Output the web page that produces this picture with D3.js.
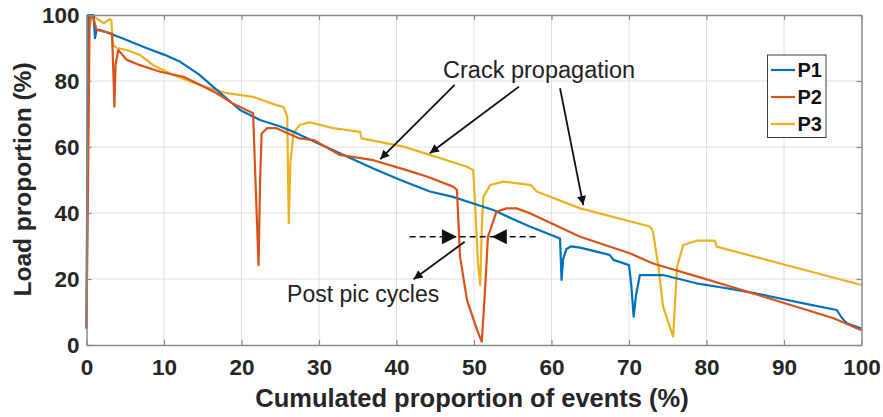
<!DOCTYPE html>
<html>
<head>
<meta charset="utf-8">
<script src="https://cdn.jsdelivr.net/npm/d3@7"></script>
<style>
  html, body { margin: 0; padding: 0; background: #fff; }
  svg { display: block; font-family: "Liberation Sans", Arial, Helvetica, sans-serif; }
</style>
</head>
<body>
<svg id="chart" width="883" height="417"></svg>
<script>
// ---------- data ----------
const seriesNames = ["P1", "P2", "P3"];
const seriesColors = ["#0072BD", "#D95319", "#EDB120"];

const p1x = [0, 0.2, 0.9, 1.1, 1.3, 1.7, 3, 4.7, 7.8, 10, 12.1, 14.5, 16.8, 19.8, 22.4, 25, 27.1, 30, 33.6, 37, 40.5, 44.3, 47.3, 49.9, 52.5, 55, 57.2, 61.1, 61.3, 61.5, 61.9, 62.5, 63.7, 67.5, 68, 70, 70.3, 70.6, 70.9, 71.4, 74.4, 78.7, 82.6, 86, 89.5, 93, 96.8, 97.5, 98.1, 100];
const p1y = [5, 100, 100, 93, 95.5, 95.5, 94.4, 92.9, 89.9, 88, 85.8, 82, 77.3, 71.2, 68.2, 66.2, 64.2, 61, 57.1, 53.5, 50, 46.5, 44.9, 42.9, 40.9, 38.2, 35.9, 32.3, 19.7, 26, 29, 29.9, 29.5, 27.3, 25.8, 24.2, 18, 8.6, 15, 21.2, 21.2, 18.7, 17.2, 15.8, 14.1, 12.4, 10.6, 8.1, 6.6, 5];

const p2x = [0, 0.2, 0.4, 0.9, 1.3, 2.2, 3.3, 3.5, 3.6, 3.75, 4.1, 5.2, 6.9, 9.5, 12.5, 14.5, 16.8, 19, 21.5, 21.8, 22.2, 22.4, 22.6, 23.3, 24.5, 27.5, 29.3, 32.7, 37, 41.3, 44, 47.3, 47.8, 48.2, 49.1, 50.4, 51, 51.4, 51.8, 52.9, 54.2, 55.5, 57.2, 63.7, 70.1, 73.1, 79.6, 85.2, 89.5, 96.4, 100];
const p2y = [5, 50, 99.5, 99, 95.5, 95, 94.4, 80, 72.2, 85, 89.4, 86.4, 84.8, 82.8, 81.3, 79, 76.3, 73, 70.2, 50, 24.2, 50, 64.1, 65.7, 65.7, 62.6, 62.1, 57.6, 56, 53, 51, 48, 47, 26.8, 13.6, 4.5, 1, 15.7, 32.8, 40.4, 41.4, 41.4, 39.9, 32.8, 27.8, 24.7, 20.2, 16.2, 13.1, 8.1, 4.5];

const p3x = [0, 0.3, 0.7, 1.3, 2.2, 3, 3.2, 3.4, 3.9, 5.2, 6.9, 8.6, 11.2, 14.6, 18.1, 21.5, 24.5, 25.4, 25.9, 26.1, 26.3, 26.7, 27.5, 28.8, 31.8, 35.3, 35.5, 40.9, 44.3, 49.1, 49.9, 50.2, 50.5, 50.8, 51.0, 51.2, 52.1, 53.8, 57.2, 57.4, 58.1, 63.7, 72.7, 73.1, 73.8, 74.4, 75.7, 76.2, 77, 78.7, 81.1, 81.3, 89.5, 100];
const p3y = [8, 95, 100, 99, 97.5, 98.7, 98.5, 91, 90, 89.4, 87.9, 84.8, 81.8, 78.8, 76.3, 75.2, 72.7, 72.2, 69.2, 36.9, 55, 64.1, 66.7, 67.5, 65.7, 64.6, 62.6, 60.1, 57.6, 54, 53, 40, 25, 18.2, 35, 44.9, 48.5, 49.5, 48.5, 48.3, 46.5, 41.4, 35.9, 34.3, 23.7, 11.6, 2.5, 23.7, 30.3, 31.6, 31.6, 29.8, 24.7, 18.2];

const xTicks = [0, 10, 20, 30, 40, 50, 60, 70, 80, 90, 100];
const yTicks = [0, 20, 40, 60, 80, 100];
const xLabel = "Cumulated proportion of events (%)";
const yLabel = "Load proportion (%)";

// annotations (data coordinates)
const crackText = { x: 58.4, y: 80.9, text: "Crack propagation" };
const crackArrows = [
  [[47.5, 78.8], [37.9, 56.3]],
  [[55.8, 78.3], [44.3, 58.1]],
  [[61.1, 77.8], [64.1, 42.4]]
];
const dashY = 32.8;
const dashLeft = [41.7, 47.8];   // from, tip
const dashRight = [58.1, 52.3];  // from, tip
const postText = { x: 35.7, y: 13.1, text: "Post pic cycles" };
const postArrow = [[48.8, 31.3], [42.2, 19.9]];

// ---------- layout ----------
const svg = d3.select("#chart");
const L = 86.5, R = 861.5, T = 15, B = 345;
const x = d3.scaleLinear().domain([0, 100]).range([L, R]);
const y = d3.scaleLinear().domain([0, 100]).range([B, T]);

const axisColor = "#8a8a8a";
const gridColor = "#e0e0e0";

// grid
const grid = svg.append("g");
grid.selectAll(".gx").data(xTicks.slice(1, -1)).join("line")
  .attr("x1", d => x(d)).attr("x2", d => x(d)).attr("y1", T).attr("y2", B)
  .attr("stroke", gridColor).attr("stroke-width", 1);
grid.selectAll(".gy").data(yTicks.slice(1, -1)).join("line")
  .attr("y1", d => y(d)).attr("y2", d => y(d)).attr("x1", L).attr("x2", R)
  .attr("stroke", gridColor).attr("stroke-width", 1);

// series
const all = [[p1x, p1y], [p2x, p2y], [p3x, p3y]];
const line = d3.line().x(d => x(d[0])).y(d => y(d[1])).curve(d3.curveLinear);
const order = [2, 0, 1];
order.forEach(i => {
  const pts = all[i][0].map((v, k) => [v, all[i][1][k]]);
  svg.append("path").datum(pts)
    .attr("d", line).attr("fill", "none")
    .attr("stroke", seriesColors[i]).attr("stroke-width", 2.2)
    .attr("stroke-linejoin", "round");
});

// axes (MATLAB box style, inward ticks)
const tl = 5;
const axB = svg.append("g").attr("transform", `translate(0,${B})`)
  .call(d3.axisBottom(x).tickValues(xTicks).tickSizeInner(-tl).tickSizeOuter(0).tickPadding(14));
const axT = svg.append("g").attr("transform", `translate(0,${T})`)
  .call(d3.axisTop(x).tickValues(xTicks).tickSizeInner(-tl).tickSizeOuter(0).tickFormat(""));
const axL = svg.append("g").attr("transform", `translate(${L},0)`)
  .call(d3.axisLeft(y).tickValues(yTicks).tickSizeInner(-tl).tickSizeOuter(0).tickPadding(7));
const axR = svg.append("g").attr("transform", `translate(${R},0)`)
  .call(d3.axisRight(y).tickValues(yTicks).tickSizeInner(-tl).tickSizeOuter(0).tickFormat(""));
[axB, axT, axL, axR].forEach(g => {
  g.select(".domain").attr("stroke", axisColor).attr("stroke-width", 1.5);
  g.selectAll(".tick line").attr("stroke", axisColor).attr("stroke-width", 1.2);
  g.selectAll(".tick text").attr("fill", "#262626")
    .style("font-size", "22.5px").style("font-weight", "bold")
    .style("font-family", "'Liberation Sans', Arial, sans-serif");
});
axB.selectAll(".tick text").attr("dy", "0.7em");

// axis titles
svg.append("text").attr("x", (L + R) / 2 - 2).attr("y", 407)
  .attr("text-anchor", "middle").attr("fill", "#262626")
  .style("font-size", "25.5px").style("font-weight", "bold").text(xLabel);
svg.append("text").attr("transform", `translate(31,179.5) rotate(-90)`)
  .attr("text-anchor", "middle").attr("fill", "#262626")
  .style("font-size", "24.5px").style("font-weight", "bold").text(yLabel);

// arrow markers
const defs = svg.append("defs");
defs.append("marker").attr("id", "ah").attr("viewBox", "0 0 10 10")
  .attr("refX", 10).attr("refY", 5).attr("markerWidth", 13).attr("markerHeight", 9)
  .attr("markerUnits", "userSpaceOnUse").attr("orient", "auto")
  .append("path").attr("d", "M0,0 L10,5 L0,10 Z").attr("fill", "#111");
defs.append("marker").attr("id", "ahBig").attr("viewBox", "0 0 10 10")
  .attr("refX", 10).attr("refY", 5).attr("markerWidth", 17).attr("markerHeight", 15)
  .attr("markerUnits", "userSpaceOnUse").attr("orient", "auto")
  .append("path").attr("d", "M0,0 L10,5 L0,10 Z").attr("fill", "#111");

// annotations
svg.append("text").attr("x", x(crackText.x)).attr("y", y(crackText.y))
  .attr("text-anchor", "middle").attr("fill", "#222")
  .style("font-size", "23.5px").text(crackText.text);
crackArrows.forEach(a => {
  svg.append("line").attr("x1", x(a[0][0])).attr("y1", y(a[0][1]))
    .attr("x2", x(a[1][0])).attr("y2", y(a[1][1]))
    .attr("stroke", "#111").attr("stroke-width", 1.8).attr("marker-end", "url(#ah)");
});
svg.append("line").attr("x1", x(dashLeft[0])).attr("x2", x(dashRight[0]))
  .attr("y1", y(dashY)).attr("y2", y(dashY))
  .attr("stroke", "#111").attr("stroke-width", 1.6).attr("stroke-dasharray", "6,4");
[dashLeft, dashRight].forEach(d => {
  svg.append("line").attr("x1", x(d[0])).attr("x2", x(d[1]))
    .attr("y1", y(dashY)).attr("y2", y(dashY))
    .attr("stroke", "none").attr("marker-end", "url(#ahBig)");
});
svg.append("line").attr("x1", x(postArrow[0][0])).attr("y1", y(postArrow[0][1]))
  .attr("x2", x(postArrow[1][0])).attr("y2", y(postArrow[1][1]))
  .attr("stroke", "#111").attr("stroke-width", 1.8).attr("marker-end", "url(#ah)");
svg.append("text").attr("x", x(postText.x)).attr("y", y(postText.y))
  .attr("text-anchor", "middle").attr("fill", "#222")
  .style("font-size", "23px").text(postText.text);

// legend
const lg = svg.append("g");
const lgX = 767.5, lgY = 55, lgW = 58.5, lgH = 82.5;
lg.append("rect").attr("x", lgX).attr("y", lgY).attr("width", lgW).attr("height", lgH)
  .attr("fill", "#fff").attr("stroke", "#3a3a3a").attr("stroke-width", 1);
seriesNames.forEach((n, i) => {
  const yy = lgY + 15 + i * 27;
  lg.append("line").attr("x1", lgX + 3.5).attr("x2", lgX + 27.5).attr("y1", yy).attr("y2", yy)
    .attr("stroke", seriesColors[i]).attr("stroke-width", 2.2);
  lg.append("text").attr("x", lgX + 30).attr("y", yy).attr("dy", "0.36em")
    .attr("fill", "#111").style("font-size", "20px").style("font-weight", "bold").text(n);
});
</script>
</body>
</html>
